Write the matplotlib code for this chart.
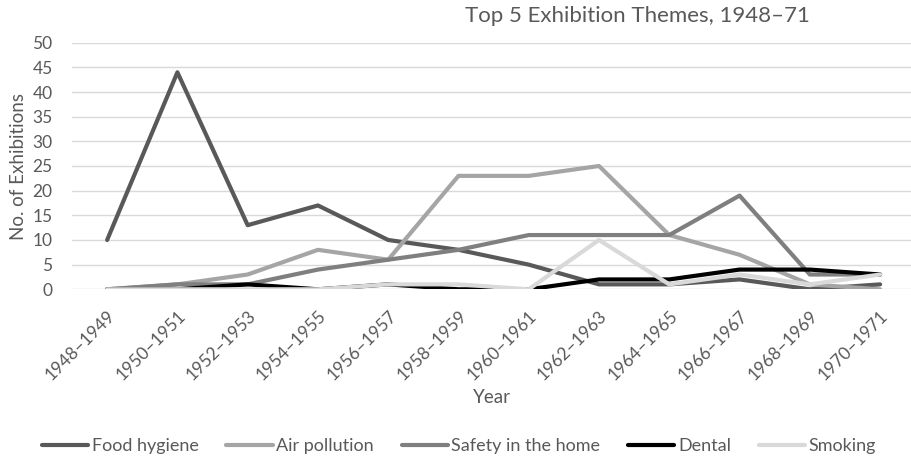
import matplotlib
matplotlib.use("Agg")
import matplotlib.pyplot as plt
import matplotlib.transforms as mtransforms

plt.rcParams['font.family'] = ['Lato', 'DejaVu Sans']

periods = ["1948–1949", "1950–1951", "1952–1953", "1954–1955", "1956–1957", "1958–1959",
           "1960–1961", "1962–1963", "1964–1965", "1966–1967", "1968–1969", "1970–1971"]
food_hygiene = [10, 44, 13, 17, 10, 8, 5, 1, 1, 2, 0, 1]
air_pollution = [0, 1, 3, 8, 6, 23, 23, 25, 11, 7, 1, 0]
safety_home = [0, 1, 1, 4, 6, 8, 11, 11, 11, 19, 3, 3]
dental = [0, 0, 1, 0, 1, 0, 0, 2, 2, 4, 4, 3]
smoking = [0, 0, 0, 0, 1, 1, 0, 10, 1, 3, 1, 3]

series = [
    ("Food hygiene", food_hygiene, "#595959"),
    ("Air pollution", air_pollution, "#a5a5a5"),
    ("Safety in the home", safety_home, "#7f7f7f"),
    ("Dental", dental, "#000000"),
    ("Smoking", smoking, "#d9d9d9"),
]

text_color = "#595959"
fig = plt.figure(figsize=(9.11, 4.58), dpi=100)
ax = fig.add_axes([72 / 911, (458 - 289.3) / 458, (911 - 72) / 911, (289.3 - 42.7) / 458])

x = list(range(len(periods)))
for name, vals, col in series:
    ax.plot(x, vals, color=col, lw=3.0, label=name,
            solid_capstyle='round', solid_joinstyle='round')

ax.set_xlim(-0.5, 11.44)
ax.set_ylim(0, 50)
ax.set_yticks(range(0, 51, 5))
ax.grid(axis='y', color='#d9d9d9', lw=1.0)
ax.set_axisbelow(True)
for s in ax.spines.values():
    s.set_visible(False)
ax.tick_params(axis='both', length=0, colors=text_color)
ax.tick_params(axis='y', pad=14, labelsize=12.5)

ax.set_xticks(x)
ax.set_xticklabels(periods, rotation=45, ha='right', va='top', rotation_mode='anchor')
offset = mtransforms.ScaledTranslation(4 / 100, 0, fig.dpi_scale_trans)
for lab in ax.get_xticklabels():
    lab.set_transform(lab.get_transform() + offset)
ax.tick_params(axis='x', pad=13, labelsize=12.5)

ax.set_xlabel("Year", fontsize=13.5, color=text_color, labelpad=4)
ax.set_ylabel("No. of Exhibitions", fontsize=13.5, color=text_color, labelpad=4)

fig.text(637 / 911, 1 - 16 / 458, "Top 5 Exhibition Themes, 1948–71", ha='center', va='center',
         fontsize=16, color=text_color)

leg = fig.legend(loc='center', bbox_to_anchor=(459 / 911, 12 / 458), ncol=5, frameon=False,
                 fontsize=13, handlelength=2.55, handletextpad=0.2, columnspacing=1.55,
                 labelcolor=text_color)

fig.savefig("out.png", dpi=100)
